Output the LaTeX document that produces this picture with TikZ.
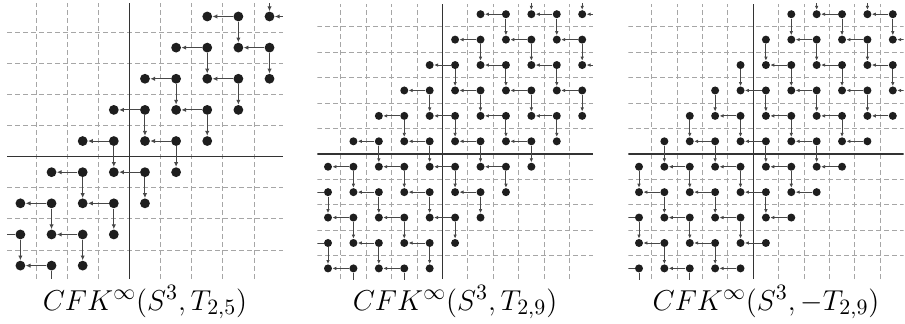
\documentclass[tikz,border=0pt]{standalone}
\usepackage{amsmath,amssymb}
\usepackage{xcolor}
\definecolor{cfkdot}{HTML}{1E1E1E}
\definecolor{cfkline}{HTML}{474747}
\definecolor{cfkgridc}{HTML}{A6A6A6}
\usepackage{tikz}
\usetikzlibrary{arrows.meta}
\tikzset{
  cfkgrid/.style={cfkgridc,line width=0.45pt,dash pattern=on 2.5pt off 1.5pt},
  cfkaxis/.style={black!80,line width=0.7pt},
  cfkgen/.style={circle,fill=cfkdot,inner sep=0pt,minimum size=4.9pt},
  cfkgensmall/.style={cfkgen,minimum size=4pt},
  cfkdiff/.style={-{Latex[length=2.4pt,width=2.2pt]},cfkline,line width=0.5pt},
  cfkdiffsmall/.style={-{Latex[length=2pt,width=1.8pt]},cfkline,line width=0.45pt},
  cfklabel/.style={anchor=base,inner sep=0pt,font=\fontsize{15}{18}\selectfont},
}

\begin{document}
\begin{tikzpicture}
  \useasboundingbox (0,0) rectangle (452.5pt,161.5pt);
  % staircase of T_{2,5}
  \begin{scope}[shift={(10.2pt,28.7pt)},x=15.57pt,y=15.57pt]
    \clip (-0.43,-0.43) rectangle (8.43,8.43);
    \foreach \g in {0.5,1.5,2.5,4.5,5.5,6.5,7.5} {
      \draw[cfkgrid] (\g,-0.43) -- (\g,8.43);
      \draw[cfkgrid] (-0.43,\g) -- (8.43,\g);
    }
    \draw[cfkaxis] (3.5,-0.43) -- (3.5,8.43);
    \draw[cfkaxis] (-0.43,3.5) -- (8.43,3.5);
    \foreach \k in {0,...,11} {
      \foreach \m in {0,...,4} {
        \pgfmathtruncatemacro\gx{8-\k+ceil(\m/2)}
        \pgfmathtruncatemacro\gy{10-\k-floor(\m/2)}
        \node[cfkgen] (a\k-\m) at (\gx,\gy) {};
      }
      \foreach \m in {1,3} {
        \pgfmathtruncatemacro\mp{\m-1}
        \pgfmathtruncatemacro\mn{\m+1}
        \draw[cfkdiff] (a\k-\m) -- (a\k-\mp);
        \draw[cfkdiff] (a\k-\m) -- (a\k-\mn);
      }
    }
  \end{scope}
  % staircase of T_{2,9}
  \begin{scope}[shift={(164pt,27.3pt)},x=12.71pt,y=12.71pt]
    \clip (-0.42,-0.42) rectangle (10.42,10.42);
    \foreach \g in {0.5,1.5,2.5,3.5,5.5,6.5,7.5,8.5,9.5} {
      \draw[cfkgrid] (\g,-0.42) -- (\g,10.42);
      \draw[cfkgrid] (-0.42,\g) -- (10.42,\g);
    }
    \draw[cfkaxis] (4.5,-0.42) -- (4.5,10.42);
    \draw[cfkaxis] (-0.42,4.5) -- (10.42,4.5);
    \foreach \k in {0,...,14} {
      \foreach \m in {0,...,8} {
        \pgfmathtruncatemacro\gx{9-\k+ceil(\m/2)}
        \pgfmathtruncatemacro\gy{13-\k-floor(\m/2)}
        \node[cfkgensmall] (b\k-\m) at (\gx,\gy) {};
      }
      \foreach \m in {1,3,5,7} {
        \pgfmathtruncatemacro\mp{\m-1}
        \pgfmathtruncatemacro\mn{\m+1}
        \draw[cfkdiffsmall] (b\k-\m) -- (b\k-\mp);
        \draw[cfkdiffsmall] (b\k-\m) -- (b\k-\mn);
      }
    }
  \end{scope}
  % staircase of -T_{2,9}
  \begin{scope}[shift={(319.5pt,27.3pt)},x=12.69pt,y=12.71pt]
    \clip (-0.42,-0.42) rectangle (10.43,10.42);
    \foreach \g in {0.5,1.5,2.5,3.5,5.5,6.5,7.5,8.5,9.5} {
      \draw[cfkgrid] (\g,-0.42) -- (\g,10.42);
      \draw[cfkgrid] (-0.42,\g) -- (10.43,\g);
    }
    \draw[cfkaxis] (4.5,-0.42) -- (4.5,10.42);
    \draw[cfkaxis] (-0.42,4.5) -- (10.43,4.5);
    \foreach \k in {0,...,14} {
      \foreach \m in {0,...,8} {
        \pgfmathtruncatemacro\gx{9-\k+floor(\m/2)}
        \pgfmathtruncatemacro\gy{13-\k-ceil(\m/2)}
        \node[cfkgensmall] (c\k-\m) at (\gx,\gy) {};
      }
      \foreach \m in {2,4,6,8} {
        \pgfmathtruncatemacro\mp{\m-1}
        \draw[cfkdiffsmall] (c\k-\m) -- (c\k-\mp);
      }
      \foreach \m in {0,2,4,6} {
        \pgfmathtruncatemacro\mn{\m+1}
        \draw[cfkdiffsmall] (c\k-\m) -- (c\k-\mn);
      }
    }
  \end{scope}
  % captions
  \node[cfklabel] (lab25) at (72.5pt,6.5pt) {$CFK^\infty(S^3,T_{2,5})$};
  \node[cfklabel] (lab29) at (227.5pt,6.5pt) {$CFK^\infty(S^3,T_{2,9})$};
  \node[cfklabel] (labm29) at (383pt,6.5pt) {$CFK^\infty(S^3,-T_{2,9})$};
\end{tikzpicture}
\end{document}
